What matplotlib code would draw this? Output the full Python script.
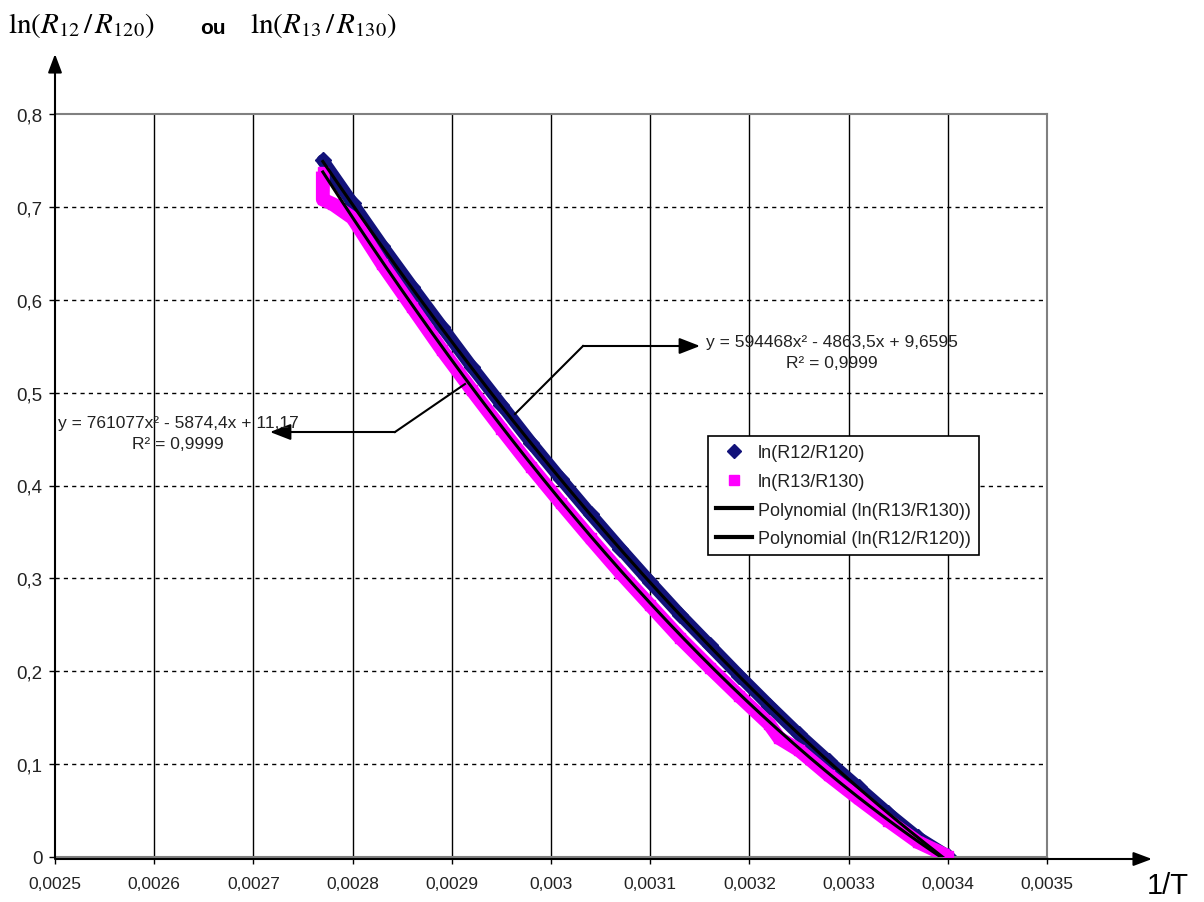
import numpy as np
import matplotlib
matplotlib.use('Agg')
import matplotlib.pyplot as plt
from matplotlib.lines import Line2D
from matplotlib.patches import FancyArrowPatch

plt.rcParams['font.family'] = ['Liberation Sans', 'DejaVu Sans']
plt.rcParams['mathtext.fontset'] = 'stix'

# points : 1/T et ln(R12/R120)
x_12 = [0.00277, 0.00280, 0.00283, 0.00286, 0.00289, 0.00292, 0.00295, 0.00298,
        0.00301, 0.00304, 0.00307, 0.00310, 0.00313, 0.00316, 0.00319, 0.00322,
        0.00325, 0.00328, 0.00331, 0.00334, 0.00337, 0.00340]
y_12 = [0.750, 0.704, 0.658, 0.614, 0.571, 0.528, 0.487, 0.446,
        0.407, 0.369, 0.332, 0.296, 0.261, 0.228, 0.195, 0.163,
        0.132, 0.103, 0.075, 0.047, 0.021, 0.001]

# 1/T et ln(R13/R130)
x_13 = [0.00277, 0.00277, 0.00277, 0.00278, 0.00280, 0.00283, 0.00286, 0.00289,
        0.00292, 0.00295, 0.00298, 0.00301, 0.00304, 0.00307, 0.00310, 0.00313,
        0.00316, 0.00319, 0.00322, 0.00323, 0.00325, 0.00328, 0.00331, 0.00334,
        0.00337, 0.00340]
y_13 = [0.738, 0.722, 0.708, 0.703, 0.688, 0.638, 0.592, 0.546,
        0.503, 0.461, 0.420, 0.381, 0.343, 0.306, 0.271, 0.236,
        0.204, 0.173, 0.143, 0.128, 0.115, 0.088, 0.063, 0.039,
        0.016, 0.001]

# courbes de tendance (coefficients affichés)
coef_12 = [594468, -4863.5, 9.6595]
coef_13 = [761077, -5874.4, 11.17]

xticks = [0.0025, 0.0026, 0.0027, 0.0028, 0.0029, 0.0030, 0.0031, 0.0032, 0.0033, 0.0034, 0.0035]
xlabels = ['0,0025', '0,0026', '0,0027', '0,0028', '0,0029', '0,003', '0,0031',
           '0,0032', '0,0033', '0,0034', '0,0035']
yticks = [0, 0.1, 0.2, 0.3, 0.4, 0.5, 0.6, 0.7, 0.8]
ylabels = ['0', '0,1', '0,2', '0,3', '0,4', '0,5', '0,6', '0,7', '0,8']

W, H = 1204, 903
def fp(px, py):
    # pixels de l'image -> fraction de la figure
    return (px / W, 1 - py / H)

fig = plt.figure(figsize=(12.04, 9.03), dpi=100)
ax = fig.add_axes([55 / W, 45 / H, 992 / W, 743 / H])
ax.set_xlim(0.0025, 0.0035)
ax.set_ylim(0, 0.8)

# grille
for xv in xticks[1:-1]:
    ax.axvline(xv, color='black', lw=1, zorder=1)
for yv in yticks[1:-1]:
    ax.axhline(yv, color='black', lw=1, ls=(0, (3, 3)), zorder=1)

navy = '#12127a'
pink = '#ff00ff'
ax.plot(x_12, y_12, color=navy, lw=9, solid_joinstyle='round', solid_capstyle='round', zorder=2)
ax.plot(x_12, y_12, 'D', color=navy, ms=8, zorder=2)
ax.plot(x_13, y_13, color=pink, lw=10, solid_joinstyle='round', solid_capstyle='butt', zorder=3)
ax.plot(x_13, y_13, 's', color=pink, ms=7, zorder=3)

xt = np.linspace(min(x_12), max(x_12), 200)
ax.plot(xt, np.polyval(coef_13, xt), color='black', lw=2.2, zorder=4)
ax.plot(xt, np.polyval(coef_12, xt), color='black', lw=2.2, zorder=4)

for s in ['top', 'right', 'bottom']:
    ax.spines[s].set_color('#808080')
    ax.spines[s].set_linewidth(1.5)
ax.spines['left'].set_visible(False)

ax.set_xticks(xticks)
ax.set_xticklabels(xlabels, fontsize=12.5, color='#222222')
ax.set_yticks(yticks)
ax.set_yticklabels(ylabels, fontsize=13.5, color='#222222')
ax.tick_params(axis='x', direction='out', length=5, width=1, pad=9)
ax.tick_params(axis='y', direction='out', length=4, width=1, pad=5)

# axes avec flèches
ax_arrow = dict(arrowstyle='-|>,head_length=0.8,head_width=0.3', color='black', lw=1.5,
                shrinkA=0, shrinkB=0)
fig.add_artist(FancyArrowPatch(fp(55, 859), fp(55, 55), transform=fig.transFigure,
                               mutation_scale=14, **ax_arrow))
fig.add_artist(FancyArrowPatch(fp(55, 860), fp(1152, 860), transform=fig.transFigure,
                               mutation_scale=14, **ax_arrow))

fig.text(*fp(8, 26), r'$\mathrm{ln}(R_{\mathrm{12}}\,/\,R_{\mathrm{120}})$', fontsize=21, va='center')
fig.text(*fp(200, 28), 'ou', fontsize=15, fontweight='bold', va='center')
fig.text(*fp(250, 26), r'$\mathrm{ln}(R_{\mathrm{13}}\,/\,R_{\mathrm{130}})$', fontsize=21, va='center')
fig.text(*fp(1147, 886), '1/T', fontsize=21, va='center')

# étiquettes des tendances
fig.text(*fp(832, 353), 'y = 594468x² - 4863,5x + 9,6595\nR² = 0,9999', fontsize=12.5,
         ha='center', va='center', multialignment='center', linespacing=1.45, color='#222222')
fig.text(*fp(178, 434), 'y = 761077x² - 5874,4x + 11,17\nR² = 0,9999', fontsize=12.5,
         ha='center', va='center', multialignment='center', linespacing=1.45, color='#222222')

arr = dict(arrowstyle='-|>,head_length=0.9,head_width=0.35', color='black', lw=1.5,
           shrinkA=0, shrinkB=0)
fig.add_artist(Line2D([fp(465, 385)[0], fp(395, 433)[0]], [fp(465, 385)[1], fp(395, 433)[1]],
                      transform=fig.transFigure, color='black', lw=1.5))
fig.add_artist(FancyArrowPatch(fp(395, 433), fp(270, 433), transform=fig.transFigure,
                               mutation_scale=14, **arr))
fig.add_artist(Line2D([fp(515, 415)[0], fp(583, 347)[0]], [fp(515, 415)[1], fp(583, 347)[1]],
                      transform=fig.transFigure, color='black', lw=1.5))
fig.add_artist(FancyArrowPatch(fp(583, 347), fp(700, 347), transform=fig.transFigure,
                               mutation_scale=14, **arr))

handles = [Line2D([], [], ls='none', marker='D', color=navy, ms=7),
           Line2D([], [], ls='none', marker='s', color=pink, ms=7),
           Line2D([], [], color='black', lw=3),
           Line2D([], [], color='black', lw=3)]
labels = ['ln(R12/R120)', 'ln(R13/R130)', 'Polynomial (ln(R13/R130))', 'Polynomial (ln(R12/R120))']
leg = fig.legend(handles, labels, loc='upper left', bbox_to_anchor=fp(708, 437),
                 fontsize=13, frameon=True, fancybox=False, framealpha=1,
                 handlelength=2.0, handletextpad=0.3, labelspacing=0.65,
                 borderpad=0.45, borderaxespad=0)
leg.get_frame().set_edgecolor('black')
leg.get_frame().set_linewidth(1.2)
for t in leg.get_texts():
    t.set_color('#222222')

plt.savefig('out.png', dpi=100)
